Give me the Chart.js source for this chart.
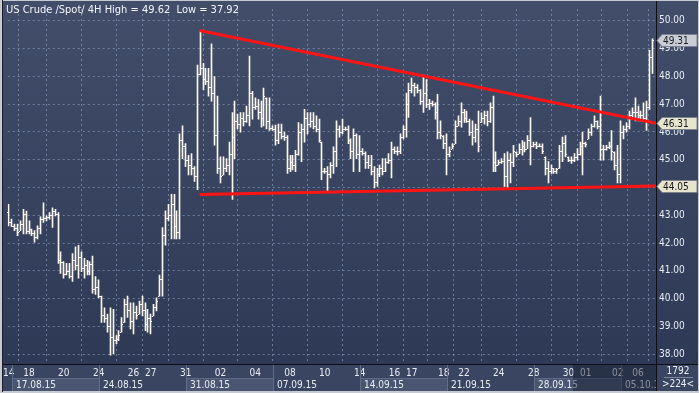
<!DOCTYPE html>
<html>
<head>
<meta charset="utf-8">
<script src="https://cdn.jsdelivr.net/npm/chart.js@4.4.1/dist/chart.umd.min.js"></script>
<style>
  html, body { margin: 0; padding: 0; background: #c6cbd3; overflow: hidden; }
  canvas { display: block; }
</style>
</head>
<body>
<canvas id="crudeChart" width="699" height="393"></canvas>
<script>
// 4H bars, 14.08.15 - 06.10.15
const barHigh = [
  43.39, 42.86, 42.68, 42.68, 42.80, 43.21, 43.15, 42.80, 42.50, 42.45,
  42.62, 42.94, 43.45, 42.98, 43.10, 43.27, 43.21, 43.10, 41.68, 41.33,
  41.27, 41.27, 41.62, 41.86, 41.92, 41.68, 41.45, 41.38, 41.33, 41.53,
  40.79, 40.68, 40.09, 39.67, 39.44, 39.67, 39.61, 38.67, 38.85, 39.32,
  39.97, 40.09, 39.85, 39.85, 39.73, 39.91, 40.09, 39.85, 39.61, 39.44,
  39.79, 40.03, 40.85, 42.56, 43.16, 43.39, 43.75, 43.75, 43.16, 45.93,
  46.22, 45.58, 45.16, 45.22, 44.75, 48.41, 49.62, 48.47, 48.29, 48.29,
  49.17, 47.99, 47.29, 45.10, 45.10, 45.04, 45.63, 46.70, 47.11, 46.64,
  46.70, 46.70, 46.93, 48.73, 47.46, 47.23, 47.17, 47.11, 47.58, 47.23,
  47.23, 46.22, 46.25, 46.28, 46.28, 45.99, 45.87, 45.16, 45.16, 45.34,
  46.34, 46.28, 46.81, 46.70, 46.70, 46.70, 46.58, 46.46, 45.63, 44.69,
  44.75, 44.90, 45.46, 46.40, 46.22, 46.46, 46.17, 46.22, 45.75, 46.11,
  45.93, 45.87, 45.40, 45.28, 45.16, 45.16, 44.75, 44.69, 44.81, 45.04,
  45.04, 45.22, 45.63, 45.46, 45.46, 45.93, 46.22, 47.40, 47.76, 47.94,
  47.76, 47.70, 47.52, 48.05, 47.88, 47.17, 47.11, 47.05, 47.35, 46.40,
  45.87, 45.93, 45.46, 45.58, 46.40, 46.58, 47.05, 46.81, 46.75, 46.46,
  46.40, 46.28, 46.75, 46.69, 46.75, 46.75, 47.05, 47.29, 45.28, 44.98,
  45.04, 45.22, 45.28, 45.22, 45.52, 45.28, 45.57, 45.69, 45.63, 45.87,
  46.52, 45.63, 45.63, 45.57, 45.57, 45.10, 44.93, 44.81, 44.69, 44.69,
  45.52, 45.81, 45.87, 45.10, 45.10, 45.22, 45.40, 45.63, 45.99, 45.63,
  46.11, 46.28, 46.58, 46.40, 47.29, 45.52, 45.52, 45.63, 46.05, 45.28,
  45.52, 46.40, 46.22, 46.34, 46.75, 46.87, 47.23, 46.93, 46.75, 47.05,
  47.11, 48.94, 49.35
];
const barLow = [
  42.62, 42.59, 42.45, 42.27, 42.45, 42.33, 42.33, 42.33, 42.27, 42.03,
  42.15, 42.33, 42.74, 42.80, 42.86, 42.56, 42.98, 41.27, 40.91, 40.74,
  40.85, 40.74, 40.62, 41.03, 40.74, 40.97, 40.74, 40.85, 40.85, 40.20,
  40.15, 40.03, 39.14, 39.14, 38.79, 37.96, 38.02, 38.38, 38.49, 38.79,
  39.14, 39.32, 38.91, 38.73, 39.26, 39.44, 39.38, 38.85, 38.79, 38.73,
  39.38, 39.56, 40.09, 40.09, 41.92, 42.80, 42.15, 42.15, 42.15, 42.15,
  45.04, 44.75, 44.45, 44.45, 44.22, 43.92, 48.05, 47.52, 47.70, 47.29,
  47.11, 45.52, 44.51, 44.16, 44.45, 44.57, 44.45, 43.57, 45.04, 46.11,
  45.99, 46.22, 46.34, 46.22, 46.46, 46.81, 46.46, 46.17, 46.22, 46.11,
  46.05, 46.05, 45.52, 45.58, 45.75, 45.69, 44.51, 44.57, 44.63, 44.57,
  45.16, 44.93, 45.63, 45.93, 46.17, 46.11, 46.00, 45.63, 44.28, 44.51,
  43.86, 44.34, 44.51, 44.75, 45.81, 45.93, 46.05, 45.58, 45.04, 44.57,
  45.04, 44.57, 45.16, 44.69, 44.69, 44.45, 43.98, 44.04, 44.39, 44.45,
  44.57, 44.87, 44.34, 45.22, 45.16, 45.22, 45.75, 45.81, 46.52, 47.40,
  47.29, 47.40, 46.99, 46.70, 46.87, 46.81, 46.93, 46.46, 45.75, 45.75,
  45.40, 44.45, 45.10, 45.40, 45.58, 46.22, 46.17, 46.34, 46.34, 45.87,
  45.52, 45.63, 45.28, 46.34, 46.28, 46.22, 46.34, 44.57, 44.57, 44.81,
  44.87, 44.04, 43.92, 44.16, 44.75, 45.10, 45.22, 45.16, 45.28, 45.40,
  44.81, 45.46, 45.40, 45.46, 45.22, 44.45, 44.16, 44.51, 44.51, 44.51,
  44.69, 44.93, 45.10, 44.93, 44.87, 44.93, 44.98, 45.16, 44.45, 45.46,
  45.75, 45.87, 46.17, 46.11, 44.98, 44.98, 45.34, 45.40, 44.98, 44.63,
  44.16, 44.16, 45.75, 45.99, 46.11, 46.46, 46.40, 46.40, 46.40, 46.40,
  46.05, 46.81, 48.11
];
const barClose = [
  42.75, 42.62, 42.55, 42.40, 42.70, 43.05, 42.45, 42.50, 42.35, 42.20,
  42.55, 42.85, 42.90, 42.92, 43.00, 43.15, 43.05, 41.40, 41.30, 40.90,
  41.00, 40.80, 41.40, 41.20, 41.50, 41.10, 41.20, 41.00, 41.25, 40.35,
  40.40, 40.10, 39.40, 39.30, 39.00, 38.60, 38.50, 38.55, 38.70, 39.10,
  39.80, 39.60, 39.20, 39.50, 39.40, 39.80, 39.60, 39.10, 39.30, 39.20,
  39.70, 39.90, 40.70, 42.30, 42.90, 43.00, 43.40, 42.60, 42.40, 45.70,
  45.50, 45.00, 44.80, 44.70, 44.40, 48.10, 48.30, 47.90, 47.85, 47.60,
  47.40, 45.90, 44.70, 44.40, 44.70, 44.80, 45.20, 45.80, 46.40, 46.30,
  46.50, 46.40, 46.60, 47.40, 46.90, 46.95, 46.70, 46.50, 47.30, 46.40,
  46.15, 46.10, 45.70, 46.00, 45.85, 45.80, 44.70, 44.90, 44.80, 45.20,
  46.00, 46.10, 46.50, 46.30, 46.40, 46.20, 46.10, 45.70, 44.60, 44.60,
  44.50, 44.80, 45.30, 46.10, 46.00, 46.10, 46.10, 45.70, 45.30, 45.90,
  45.20, 45.30, 45.25, 44.90, 44.80, 44.60, 44.20, 44.50, 44.70, 44.60,
  44.90, 45.00, 45.40, 45.30, 45.30, 45.80, 46.10, 47.00, 47.50, 47.70,
  47.60, 47.50, 47.10, 47.40, 47.00, 47.05, 47.00, 46.70, 46.00, 45.90,
  45.60, 45.20, 45.30, 45.50, 46.20, 46.40, 46.70, 46.50, 46.40, 46.00,
  45.80, 46.10, 45.50, 46.50, 46.60, 46.40, 46.90, 44.90, 44.80, 44.90,
  44.95, 44.40, 45.00, 44.90, 45.30, 45.20, 45.40, 45.50, 45.40, 45.70,
  45.50, 45.55, 45.50, 45.50, 45.30, 44.70, 44.60, 44.70, 44.60, 44.65,
  45.30, 45.60, 45.20, 45.00, 45.00, 45.10, 45.20, 45.50, 45.60, 45.55,
  46.00, 46.20, 46.40, 46.20, 45.40, 45.40, 45.45, 45.50, 45.30, 44.80,
  44.50, 46.00, 46.10, 46.20, 46.60, 46.70, 46.70, 46.60, 46.60, 46.50,
  46.90, 48.70, 49.31
];
const firstOpen = 43.13;

// day labels on the time axis (bar index where each label sits)
const dayTickIdx = [0, 7, 19, 31, 43, 49, 61, 73, 85, 97, 109, 121, 133, 139, 150, 157, 169, 181, 193, 199, 210, 217];
const dayTickLabels = ['14', '18', '20', '24', '26', '27', '31', '02', '04', '08', '10', '14', '16', '17', '18', '22', '24', '28', '30', '01', '02', '06'];

// weeks row
const weekStartIdx = [1, 31, 61, 91, 121, 151, 181, 211];
const weekLabels = ['17.08.15', '24.08.15', '31.08.15', '07.09.15', '14.09.15', '21.09.15', '28.09.15', '05.10.15'];

// drawn trend lines (triangle)
const trendTopIdx = [65.8, 223.19];
const trendTopPrice = [49.65, 46.31];
const trendBottomIdx = [65.8, 223.19];
const trendBottomPrice = [43.745, 44.05];

// price tags on the right axis
const tagValues = [49.31, 46.31, 44.05];
const tagLabels = ['49.31', '46.31', '44.05'];

const titleText = 'US Crude /Spot/ 4H High = 49.62  Low = 37.92';
const barCount = '1792';
const visibleCount = '>224<';

const FONT = '"Liberation Sans Narrow", "Arial Narrow", "DejaVu Sans Condensed", "Liberation Sans", sans-serif';
const barColor = '#fcf8f0';
const gridColor = 'rgba(140, 158, 192, 0.65)';
const textColor = '#e9edf4';
const tagFills = ['#c9ced6', '#e7e5cd', '#e7e5cd'];
const dimStartX = 573;

const chartDeco = {
  id: 'chartDeco',
  beforeDraw(chart) {
    const { ctx, chartArea: a } = chart;
    ctx.save();
    ctx.fillStyle = '#c6cbd3';
    ctx.fillRect(0, 0, chart.width, chart.height);
    const g = ctx.createLinearGradient(0, a.top, 0, a.bottom);
    g.addColorStop(0, '#414d69');
    g.addColorStop(1, '#2e3955');
    ctx.fillStyle = g;
    ctx.fillRect(3, 1, 695, a.bottom - 1);
    ctx.fillStyle = '#3a4661';
    ctx.fillRect(3, a.bottom, 695, 391 - a.bottom);
    ctx.fillStyle = '#1a1f2a';
    ctx.fillRect(2, 0, 1, 392);
    ctx.restore();
  },
  beforeDatasetsDraw(chart) {
    // keep the 1px high-low lines on whole pixels
    chart.getDatasetMeta(0).data.forEach(el => {
      el.x = Math.floor(el.x) + 0.5;
    });
  },
  afterDatasetDraw(chart, args) {
    if (args.index !== 0) return;
    const { ctx, scales: { x, y } } = chart;
    ctx.save();
    ctx.fillStyle = barColor;
    barClose.forEach((c, i) => {
      const px = Math.floor(x.getPixelForValue(i));
      const prev = i === 0 ? firstOpen : barClose[i - 1];
      const open = Math.min(barHigh[i], Math.max(barLow[i], prev));
      ctx.fillRect(px - 1, Math.round(y.getPixelForValue(open)), 1, 1);
      ctx.fillRect(px + 1, Math.round(y.getPixelForValue(c)), 1, 1);
    });
    ctx.restore();
  },
  afterDraw(chart) {
    const { ctx, chartArea: a, scales: { x, y } } = chart;
    ctx.save();

    // title
    ctx.font = '11px ' + FONT;
    ctx.fillStyle = '#f4f6fa';
    ctx.textBaseline = 'alphabetic';
    ctx.textAlign = 'left';
    ctx.fillText(titleText, 6, 13);

    // week row
    const rowTop = a.bottom + 14;
    ctx.font = '10px ' + FONT;
    weekStartIdx.forEach((idx, k) => {
      const left = Math.round(x.getPixelForValue(idx));
      const right = k + 1 < weekStartIdx.length ? Math.round(x.getPixelForValue(weekStartIdx[k + 1])) : a.right;
      if (k % 2 === 0) {
        ctx.fillStyle = '#4a5671';
        ctx.fillRect(left, rowTop, right - left, 391 - rowTop);
        ctx.fillStyle = '#5f6b86';
        ctx.fillRect(left, rowTop, right - left, 1);
      }
      ctx.fillStyle = '#626e88';
      ctx.fillRect(left, a.bottom + 1, 1, 391 - a.bottom - 1);
      ctx.save();
      ctx.beginPath();
      ctx.rect(left, rowTop, a.right - left, 391 - rowTop);
      ctx.clip();
      ctx.fillStyle = textColor;
      ctx.textBaseline = 'middle';
      ctx.fillText(weekLabels[k], left + 4, rowTop + 7);
      ctx.restore();
    });

    // dimmed tail of the time axis
    ctx.fillStyle = 'rgba(18, 25, 42, 0.45)';
    ctx.fillRect(dimStartX, a.bottom + 1, a.right - dimStartX, 391 - a.bottom - 1);

    // separators
    ctx.fillStyle = '#0c0f16';
    ctx.fillRect(3, a.bottom, 695, 1);
    ctx.fillRect(a.right, 1, 1, 390);

    // bar count cell
    ctx.fillStyle = textColor;
    ctx.textAlign = 'center';
    ctx.textBaseline = 'middle';
    ctx.fillText(barCount, 678, a.bottom + 7);
    ctx.fillText(visibleCount, 678, a.bottom + 20);
    ctx.fillStyle = '#7d889c';
    ctx.fillRect(664, a.bottom + 13, 29, 1);

    // price tags
    ctx.textAlign = 'left';
    ctx.font = '10px ' + FONT;
    tagValues.forEach((v, k) => {
      const py = Math.round(y.getPixelForValue(v)) + 0.5;
      const left = a.right + 1;
      ctx.beginPath();
      ctx.moveTo(left, py);
      ctx.lineTo(left + 5, py - 6);
      ctx.lineTo(697, py - 6);
      ctx.lineTo(697, py + 6);
      ctx.lineTo(left + 5, py + 6);
      ctx.closePath();
      ctx.fillStyle = tagFills[k];
      ctx.fill();
      ctx.strokeStyle = '#7c828e';
      ctx.lineWidth = 1;
      ctx.stroke();
      ctx.fillStyle = '#15181e';
      ctx.textBaseline = 'middle';
      ctx.fillText(tagLabels[k], left + 6, py + 0.5);
    });
    ctx.restore();
  }
};

const ctx = document.getElementById('crudeChart').getContext('2d');
new Chart(ctx, {
  type: 'bar',
  data: {
    datasets: [
      {
        type: 'bar',
        data: barHigh.map((h, i) => ({ x: i, y: [barLow[i], h] })),
        backgroundColor: barColor,
        barThickness: 1,
        borderWidth: 0,
        grouped: false,
        order: 2
      },
      {
        type: 'line',
        data: trendTopIdx.map((v, k) => ({ x: v, y: trendTopPrice[k] })),
        borderColor: '#ff1414',
        borderWidth: 3,
        pointRadius: 0,
        order: 0
      },
      {
        type: 'line',
        data: trendBottomIdx.map((v, k) => ({ x: v, y: trendBottomPrice[k] })),
        borderColor: '#ff1414',
        borderWidth: 3,
        pointRadius: 0,
        order: 0
      }
    ]
  },
  options: {
    responsive: false,
    devicePixelRatio: 1,
    animation: false,
    events: [],
    layout: { padding: { left: 4, top: 3, right: 2, bottom: 2 } },
    plugins: { legend: { display: false }, tooltip: { enabled: false }, title: { display: false } },
    scales: {
      x: {
        type: 'linear',
        min: -0.34,
        max: 223.19,
        offset: false,
        afterFit(s) { s.height = 27; },
        afterBuildTicks(s) { s.ticks = dayTickIdx.map(v => ({ value: v })); },
        grid: { color: gridColor, drawTicks: false },
        border: { display: false, dash: [2, 3] },
        ticks: {
          autoSkip: false,
          maxRotation: 0,
          padding: 3,
          color: textColor,
          font: { family: FONT, size: 10 },
          callback: (v, i) => dayTickLabels[i]
        }
      },
      y: {
        position: 'right',
        min: 37.646,
        max: 50.425,
        afterFit(s) { s.width = 41; },
        grid: { color: gridColor, drawTicks: false },
        border: { display: false, dash: [2, 3] },
        ticks: {
          stepSize: 1,
          includeBounds: false,
          padding: 3,
          color: textColor,
          font: { family: FONT, size: 10 },
          callback: v => v.toFixed(2)
        }
      }
    }
  },
  plugins: [chartDeco]
});
</script>
</body>
</html>
